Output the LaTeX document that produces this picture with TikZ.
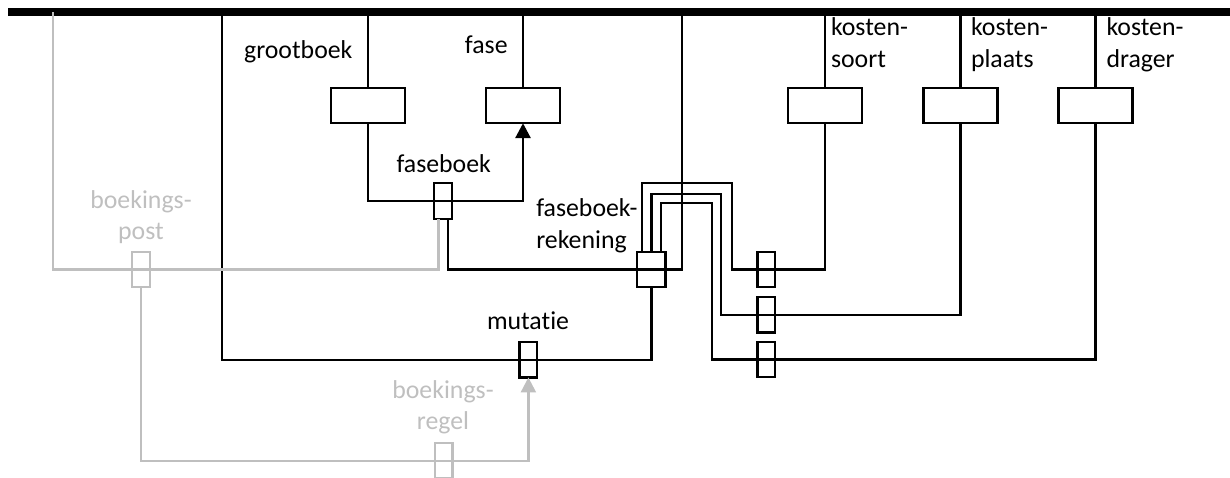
\documentclass[tikz,border=0pt]{standalone}
\usepackage{fontspec}
\setmainfont{Carlito}[RawFeature={-liga;-clig;-calt;-dlig}]
\usetikzlibrary{arrows.meta}
\definecolor{lightink}{RGB}{191,191,191}
% two-line label whose baseline is that of its first line
\newcommand\lbl[2]{\begin{tabular}[t]{@{}#1@{}}#2\end{tabular}}

\begin{document}
\begin{tikzpicture}[x=1pt,y=-1pt,
  every node/.style={inner sep=0pt, outer sep=0pt},
  wire/.style={line width=2.4pt},
  faded/.style={wire, draw=lightink},
  tip/.style={-{Triangle[width=15pt,length=15pt]}},
  entity/.style={draw, line width=2.4pt, minimum width=74pt, minimum height=35pt},
  link/.style={draw, line width=2.4pt, minimum width=17.5pt, minimum height=35.5pt},
  linkwide/.style={link, minimum width=28.5pt},
  fadedlink/.style={link, draw=lightink},
  caption/.style={font=\fontsize{25.8}{31.6}\selectfont, anchor=base},
  fadedcaption/.style={caption, text=lightink}]

\useasboundingbox (0,0) rectangle (1230,478);

% main bus
\node[fill=black, minimum width=1222pt, minimum height=7.7pt] (bus) at (619,12.2) {};

% entity boxes
\node[entity] (gb) at (368.2,105.7) {};
\node[entity] (fs) at (523,105.7) {};
\node[entity] (ks) at (825,105.7) {};
\node[entity] (kp) at (960.5,105.7) {};
\node[entity] (kd) at (1095.3,105.7) {};

% relation boxes
\node[link] (fb) at (443,201) {};
\node[linkwide] (fbr) at (651.3,269.5) {};
\node[link] (mut) at (528.4,359.7) {};
\node[link] (k1) at (766.3,269.5) {};
\node[link] (k2) at (766.3,314.7) {};
\node[link] (k3) at (766.3,359.5) {};
\node[fadedlink] (bp) at (141,269.5) {};
\node[fadedlink] (br) at (443.6,460.7) {};

% bend points
\coordinate (tap) at (682,269.5);
\coordinate (mc) at (222,359.7);
\coordinate (t1) at (732,183.3);
\coordinate (t2) at (720.7,194);
\coordinate (t3) at (711.7,203.3);
\coordinate (g0) at (53,269.5);

% entities hanging from the bus
\foreach \e in {gb,fs,ks,kp,kd}
  \draw[wire] (bus.south -| \e.north) -- (\e.north);

% grootboek - faseboek - fase
\draw[wire] (gb.south) |- (fb.east);
\draw[wire, line width=2.9pt, tip] (fb.east) -| (fs.south);

% bus - faseboekrekening - faseboek
\draw[wire] (bus.south -| tap) -- (tap) -| ([xshift=4.7pt]fb.south);

% bus - mutatie - faseboekrekening
\draw[wire] (bus.south -| mc) -- (mc) -- (mut.center) -| (fbr.south);

% faseboekrekening to the cost dimensions
\draw[wire] ([xshift=-9.6pt]fbr.north) |- (t1) |- (k1.center) -| (ks.south);
\draw[wire] (fbr.north) |- (t2) |- (k2.center) -| (kp.south);
\draw[wire] ([xshift=9.4pt]fbr.north) |- (t3) |- (k3.center) -| (kd.south);

% faded part
\draw[faded] (bus.center -| g0) -- (g0) -- (bp.center) -| ([xshift=-4.7pt]fb.south);
\draw[faded, tip] (bp.south) |- (br.center) -| (mut.south);

% labels
\node[caption] (l-gb) at (298.3,59) {grootboek};
\node[caption] (l-fs) at (486.3,53.3) {fase};
\node[caption] (l-fb) at (443.7,172.7) {faseboek};
\node[caption] (l-mut) at (528,329.3) {mutatie};
\node[caption, anchor=base west] (l-fbr) at (536.3,216.7) {\lbl{l}{faseboek-\\rekening}};
\node[caption, anchor=base west] (l-ks) at (831,35.7) {\lbl{l}{kosten-\\soort}};
\node[caption, anchor=base west] (l-kp) at (971,35.7) {\lbl{l}{kosten-\\plaats}};
\node[caption, anchor=base west] (l-kd) at (1106.5,35.7) {\lbl{l}{kosten-\\drager}};
\node[fadedcaption] (l-bp) at (141,208.3) {\lbl{c}{boekings-\\post}};
\node[fadedcaption] (l-br) at (443,398.3) {\lbl{c}{boekings-\\regel}};
\end{tikzpicture}
\end{document}
